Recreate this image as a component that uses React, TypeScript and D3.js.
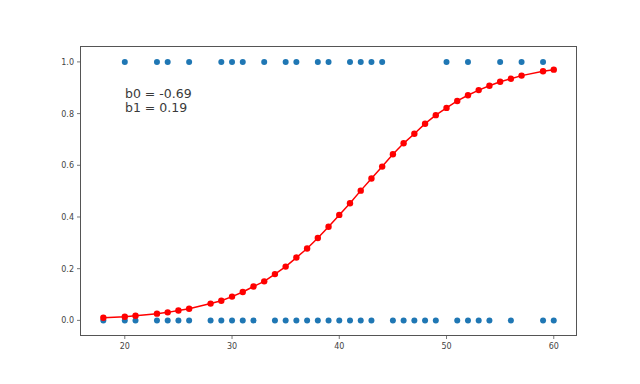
import React from "react";
import * as d3 from "d3";

const onesX = [20, 23, 24, 26, 29, 30, 31, 33, 35, 36, 38, 39, 41, 42, 43, 44, 50, 52, 55, 57, 59];
const zerosX = [18, 20, 21, 23, 24, 25, 26, 28, 29, 30, 31, 32, 34, 35, 36, 37, 38, 39, 40, 41, 42, 43, 45, 46, 47, 48, 49, 51, 52, 53, 54, 56, 59, 60];
const curveX = [18, 20, 21, 23, 24, 25, 26, 28, 29, 30, 31, 32, 33, 34, 35, 36, 37, 38, 39, 40, 41, 42, 43, 44, 45, 46, 47, 48, 49, 50, 51, 52, 53, 54, 55, 56, 57, 59, 60];
const curveY = [0.010, 0.014, 0.018, 0.026, 0.031, 0.038, 0.045, 0.065, 0.076, 0.092, 0.110, 0.131, 0.151, 0.179, 0.208, 0.243, 0.278, 0.319, 0.362, 0.408, 0.453, 0.502, 0.549, 0.595, 0.643, 0.685, 0.722, 0.761, 0.794, 0.822, 0.849, 0.871, 0.891, 0.908, 0.923, 0.935, 0.947, 0.964, 0.970];
const xTicks = [20, 30, 40, 50, 60];
const yTicks = [0.0, 0.2, 0.4, 0.6, 0.8, 1.0];
const annotation = ["b0 = -0.69", "b1 = 0.19"];

export default function App() {
  const left = 80.5, right = 576.5, top = 46.5, bottom = 335.5;
  const x = d3.scaleLinear().domain([15.87, 62.12]).range([left, right]);
  const y = d3.scaleLinear().domain([-0.0585, 1.0596]).range([bottom, top]);
  const line = d3.line<number>().x((d, i) => x(curveX[i])).y((d) => y(d));
  const font = "DejaVu Sans, sans-serif";
  return (
    <svg width={640} height={384} style={{ position: "absolute", left: 0, top: 0, background: "#fff" }}>
      <rect x={0} y={0} width={640} height={384} fill="#fff" />
      {onesX.map((v, i) => (
        <circle key={"o" + i} cx={x(v)} cy={y(1)} r={3} fill="#1f77b4" />
      ))}
      {zerosX.map((v, i) => (
        <circle key={"z" + i} cx={x(v)} cy={y(0)} r={3} fill="#1f77b4" />
      ))}
      <path d={line(curveY) || ""} fill="none" stroke="#ff0000" strokeWidth={1.5} />
      {curveY.map((v, i) => (
        <circle key={"c" + i} cx={x(curveX[i])} cy={y(v)} r={3.2} fill="#ff0000" />
      ))}
      <rect x={left} y={top} width={right - left} height={bottom - top} fill="none" stroke="#555" strokeWidth={1} />
      {xTicks.map((t) => (
        <g key={"xt" + t}>
          <line x1={x(t)} x2={x(t)} y1={bottom} y2={bottom + 3.5} stroke="#555" strokeWidth={0.8} />
          <text x={x(t)} y={348.5} fontSize={8} fontFamily={font} fill="#444" textAnchor="middle">{t}</text>
        </g>
      ))}
      {yTicks.map((t) => (
        <g key={"yt" + t}>
          <line x1={left - 3.5} x2={left} y1={y(t)} y2={y(t)} stroke="#555" strokeWidth={0.8} />
          <text x={left - 6.5} y={y(t) + 3} fontSize={8} fontFamily={font} fill="#444" textAnchor="end">{t.toFixed(1)}</text>
        </g>
      ))}
      {annotation.map((s, i) => (
        <text key={"a" + i} x={125} y={97.5 + i * 14} fontSize={12.5} fontFamily={font} fill="#3a3a3a">{s}</text>
      ))}
    </svg>
  );
}
